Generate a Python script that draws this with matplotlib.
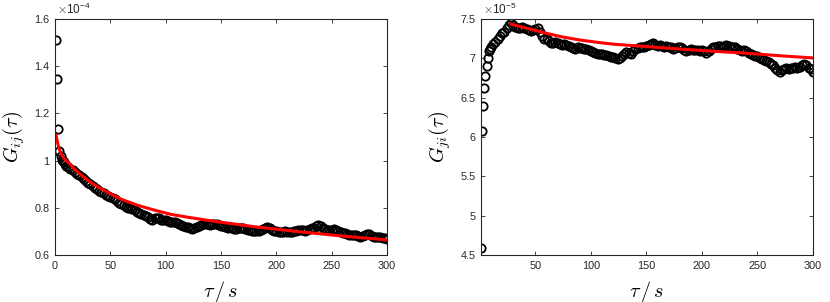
import numpy as np
import matplotlib
matplotlib.use('Agg')
from matplotlib import pyplot as plt

plt.rcParams['font.family'] = ['Liberation Sans', 'DejaVu Sans']
plt.rcParams['mathtext.fontset'] = 'cm'

# время задержки, с
tau = list(range(1, 11)) + list(range(12, 301, 2))

# G_ij(tau), в единицах 1e-4
g_ij = [1.51, 1.345, 1.135, 1.042, 1.018, 1.003, 0.998, 0.992, 0.985, 0.978,
        0.972, 0.965, 0.960, 0.952, 0.944, 0.938, 0.930, 0.922, 0.915, 0.905,
        0.900, 0.893, 0.885, 0.880, 0.872, 0.866, 0.862, 0.856, 0.851, 0.847,
        0.843, 0.836, 0.828, 0.822, 0.816, 0.810, 0.805, 0.801, 0.800, 0.796,
        0.790, 0.784, 0.778, 0.773, 0.769, 0.766, 0.760, 0.752, 0.750, 0.755,
        0.758, 0.755, 0.750, 0.748, 0.750, 0.745, 0.740, 0.738, 0.741, 0.737,
        0.732, 0.726, 0.721, 0.718, 0.720, 0.716, 0.712, 0.715, 0.718, 0.722,
        0.727, 0.731, 0.733, 0.730, 0.728, 0.730, 0.733, 0.731, 0.727, 0.725,
        0.722, 0.718, 0.716, 0.719, 0.715, 0.712, 0.710, 0.713, 0.716, 0.714,
        0.710, 0.706, 0.704, 0.703, 0.702, 0.700, 0.703, 0.706, 0.710, 0.716,
        0.718, 0.714, 0.707, 0.703, 0.700, 0.698, 0.697, 0.699, 0.701, 0.698,
        0.696, 0.697, 0.700, 0.702, 0.705, 0.708, 0.706, 0.703, 0.706, 0.710,
        0.713, 0.716, 0.722, 0.726, 0.723, 0.716, 0.710, 0.706, 0.704, 0.707,
        0.710, 0.708, 0.703, 0.698, 0.695, 0.692, 0.688, 0.686, 0.684, 0.683,
        0.684, 0.681, 0.678, 0.680, 0.686, 0.690, 0.688, 0.682, 0.678, 0.676,
        0.677, 0.675, 0.672, 0.670, 0.667]

# G_ji(tau), в единицах 1e-5
g_ji = [4.59, 6.07, 6.39, 6.62, 6.78, 6.90, 7.00, 7.09, 7.12, 7.14,
        7.18, 7.21, 7.24, 7.28, 7.32, 7.34, 7.38, 7.42, 7.45, 7.43,
        7.40, 7.38, 7.39, 7.40, 7.38, 7.37, 7.36, 7.35, 7.36, 7.37,
        7.38, 7.34, 7.28, 7.25, 7.24, 7.22, 7.20, 7.19, 7.21, 7.20,
        7.18, 7.17, 7.18, 7.17, 7.16, 7.15, 7.13, 7.12, 7.14, 7.13,
        7.13, 7.12, 7.12, 7.10, 7.09, 7.08, 7.07, 7.06, 7.05, 7.05,
        7.04, 7.04, 7.03, 7.02, 7.02, 7.01, 6.99, 7.00, 7.03, 7.06,
        7.08, 7.07, 7.05, 7.09, 7.12, 7.13, 7.14, 7.15, 7.15, 7.16,
        7.17, 7.18, 7.19, 7.17, 7.16, 7.17, 7.16, 7.15, 7.16, 7.15,
        7.14, 7.12, 7.13, 7.15, 7.15, 7.13, 7.10, 7.09, 7.11, 7.12,
        7.11, 7.10, 7.10, 7.09, 7.10, 7.09, 7.07, 7.09, 7.12, 7.14,
        7.15, 7.16, 7.16, 7.15, 7.16, 7.17, 7.16, 7.14, 7.15, 7.14,
        7.12, 7.10, 7.09, 7.10, 7.09, 7.07, 7.05, 7.04, 7.03, 7.03,
        7.01, 6.99, 6.98, 6.96, 6.95, 6.93, 6.91, 6.88, 6.85, 6.83,
        6.85, 6.87, 6.88, 6.87, 6.88, 6.88, 6.89, 6.88, 6.89, 6.91,
        6.93, 6.91, 6.88, 6.86, 6.83]

# аппроксимация (красная линия), точки
fit_ij_tau = [1, 2, 3, 4, 5, 6, 8, 10, 13, 18, 25, 32, 40, 50, 60, 75, 90,
              105, 120, 145, 180, 220, 260, 300]
fit_ij = [1.108, 1.083, 1.063, 1.047, 1.036, 1.026, 1.010, 1.000, 0.988,
          0.962, 0.934, 0.908, 0.885, 0.860, 0.836, 0.810, 0.790, 0.772,
          0.760, 0.742, 0.720, 0.699, 0.680, 0.664]

fit_ji_tau = [28, 40, 50, 60, 75, 90, 105, 120, 150, 180, 210, 240, 270, 300]
fit_ji = [7.435, 7.39, 7.355, 7.318, 7.27, 7.233, 7.205, 7.18, 7.15, 7.118,
          7.09, 7.065, 7.033, 7.005]

fig = plt.figure(figsize=(8.3, 3.02), dpi=100)
ax1 = fig.add_axes([55 / 830, 47 / 302, 332 / 830, 236 / 302])
ax2 = fig.add_axes([481 / 830, 47 / 302, 332 / 830, 236 / 302])


def style_axes(ax, ylabel, power):
    for sp in ax.spines.values():
        sp.set_color('#262626')
        sp.set_linewidth(0.8)
    ax.tick_params(direction='in', length=3, width=0.6, top=True, right=True,
                   labelsize=7.8, colors='#262626', pad=4)
    ax.set_xlabel(r'$\tau\,/\,s$', fontsize=14.5)
    ax.xaxis.set_label_coords(0.5, -0.1)
    ax.set_ylabel(ylabel, fontsize=14.5)
    ax.yaxis.set_label_coords(-0.085, 0.5)
    ax.text(0.005, 1.008, r'$\times\mathregular{10^{' + power + '}}$',
            transform=ax.transAxes, fontsize=8.5, color='#262626', va='bottom')


# левый график
ax1.plot(tau, g_ij, 'o', mfc='none', mec='k', ms=6, mew=1.3)
ax1.plot(fit_ij_tau, fit_ij, '-', color='#ff0000', lw=2.2)
ax1.set_xlim(0, 300)
ax1.set_ylim(0.6, 1.6)
ax1.set_xticks([0, 50, 100, 150, 200, 250, 300])
ax1.set_yticks([0.6, 0.8, 1.0, 1.2, 1.4, 1.6])
ax1.set_yticklabels(['0.6', '0.8', '1', '1.2', '1.4', '1.6'])
style_axes(ax1, r'$G_{ij}(\tau)$', '-4')

# правый график
ax2.plot(tau, g_ji, 'o', mfc='none', mec='k', ms=6, mew=1.3)
ax2.plot(fit_ji_tau, fit_ji, '-', color='#ff0000', lw=2.2)
ax2.set_xlim(1, 300)
ax2.set_ylim(4.5, 7.5)
ax2.set_xticks([50, 100, 150, 200, 250, 300])
ax2.set_yticks([4.5, 5, 5.5, 6, 6.5, 7, 7.5])
ax2.set_yticklabels(['4.5', '5', '5.5', '6', '6.5', '7', '7.5'])
style_axes(ax2, r'$G_{ji}(\tau)$', '-5')

plt.savefig('out.png', dpi=100)
